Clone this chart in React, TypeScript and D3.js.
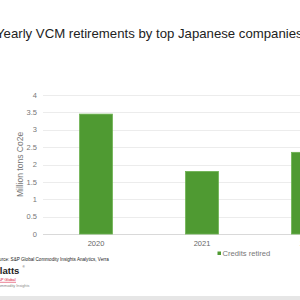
import { FC, useEffect, useRef } from "react";
import * as d3 from "d3";

const years = ["2020", "2021", "2022"];
const retired = [3.45, 1.8, 2.35];
const yTicks = [0, 0.5, 1, 1.5, 2, 2.5, 3, 3.5, 4];

const W = 300;
const H = 300;
const margin = { top: 95, left: 43, bottom: 66 };

const App: FC = () => {
  const ref = useRef<SVGSVGElement>(null);

  useEffect(() => {
    const svg = d3.select(ref.current);
    svg.selectAll("*").remove();
    svg.attr("font-family", "Liberation Sans, Arial, sans-serif");

    const x = d3
      .scaleBand()
      .domain(years)
      .range([margin.left, margin.left + 318])
      .paddingInner(0.69)
      .paddingOuter(0.345);
    const y = d3
      .scaleLinear()
      .domain([0, 4])
      .range([H - margin.bottom, margin.top]);

    // title
    svg
      .append("text")
      .attr("x", -4)
      .attr("y", 38)
      .attr("font-size", 13.2)
      .attr("fill", "#222")
      .text("Yearly VCM retirements by top Japanese companies");

    // gridlines
    svg
      .append("g")
      .selectAll("line")
      .data(yTicks)
      .join("line")
      .attr("x1", margin.left)
      .attr("x2", W)
      .attr("y1", (d) => Math.round(y(d)) + 0.5)
      .attr("y2", (d) => Math.round(y(d)) + 0.5)
      .attr("stroke", (d) => (d === 0 ? "#d9d9d9" : "#ececec"))
      .attr("stroke-width", 1);

    // tick labels
    svg
      .append("g")
      .attr("text-anchor", "end")
      .attr("font-size", 7.5)
      .attr("fill", "#777")
      .selectAll("text")
      .data(yTicks)
      .join("text")
      .attr("x", 37)
      .attr("y", (d) => y(d) + 2.7)
      .text((d) => String(d));

    // y axis title
    svg
      .append("text")
      .attr("transform", `translate(23,${(y(0) + y(4)) / 2}) rotate(-90)`)
      .attr("text-anchor", "middle")
      .attr("font-size", 8.5)
      .attr("fill", "#777")
      .text("Million tons Co2e");

    // bars
    svg
      .append("g")
      .selectAll("rect")
      .data(retired)
      .join("rect")
      .attr("x", (_, i) => x(years[i])!)
      .attr("width", x.bandwidth())
      .attr("y", (d) => y(d))
      .attr("height", (d) => y(0) - y(d))
      .attr("fill", "#4f9a32")
      .attr("stroke", "#6db150")
      .attr("stroke-width", 0.8);

    // x labels
    svg
      .append("g")
      .attr("text-anchor", "middle")
      .attr("font-size", 7.5)
      .attr("fill", "#666")
      .selectAll("text")
      .data(years)
      .join("text")
      .attr("x", (d) => x(d)! + x.bandwidth() / 2)
      .attr("y", y(0) + 12)
      .text((d) => d);

    // legend
    svg
      .append("rect")
      .attr("x", 217.5)
      .attr("y", 251.5)
      .attr("width", 3.5)
      .attr("height", 3.5)
      .attr("fill", "#4f9a32");
    svg
      .append("text")
      .attr("x", 222.5)
      .attr("y", 255.5)
      .attr("font-size", 7.6)
      .attr("fill", "#777")
      .text("Credits retired");

    // source
    svg
      .append("text")
      .attr("x", -6.5)
      .attr("y", 261)
      .attr("font-size", 4.6)
      .attr("fill", "#222")
      .text("Source: S&P Global Commodity Insights Analytics, Verra");

    // logo
    svg
      .append("text")
      .attr("x", -6.5)
      .attr("y", 274)
      .attr("font-size", 9.5)
      .attr("font-weight", "bold")
      .attr("fill", "#222")
      .text("Platts");
    svg
      .append("text")
      .attr("x", 22.5)
      .attr("y", 268)
      .attr("font-size", 3)
      .attr("fill", "#222")
      .text("®");
    svg
      .append("text")
      .attr("x", -4)
      .attr("y", 281)
      .attr("font-size", 3.8)
      .attr("fill", "#d6002a")
      .text("S&P Global");
    svg
      .append("line")
      .attr("x1", 0)
      .attr("x2", 16)
      .attr("y1", 282.3)
      .attr("y2", 282.3)
      .attr("stroke", "#d6002a")
      .attr("stroke-width", 0.5);
    svg
      .append("text")
      .attr("x", -4)
      .attr("y", 286.5)
      .attr("font-size", 3.8)
      .attr("fill", "#888")
      .text("Commodity Insights");

    // bottom band
    svg
      .append("rect")
      .attr("x", 0)
      .attr("y", 296)
      .attr("width", W)
      .attr("height", 4)
      .attr("fill", "#e6e6e6");
  }, []);

  return (
    <svg
      ref={ref}
      width={W}
      height={H}
      style={{ position: "fixed", left: 0, top: 0, background: "#fff" }}
    />
  );
};

export default App;
